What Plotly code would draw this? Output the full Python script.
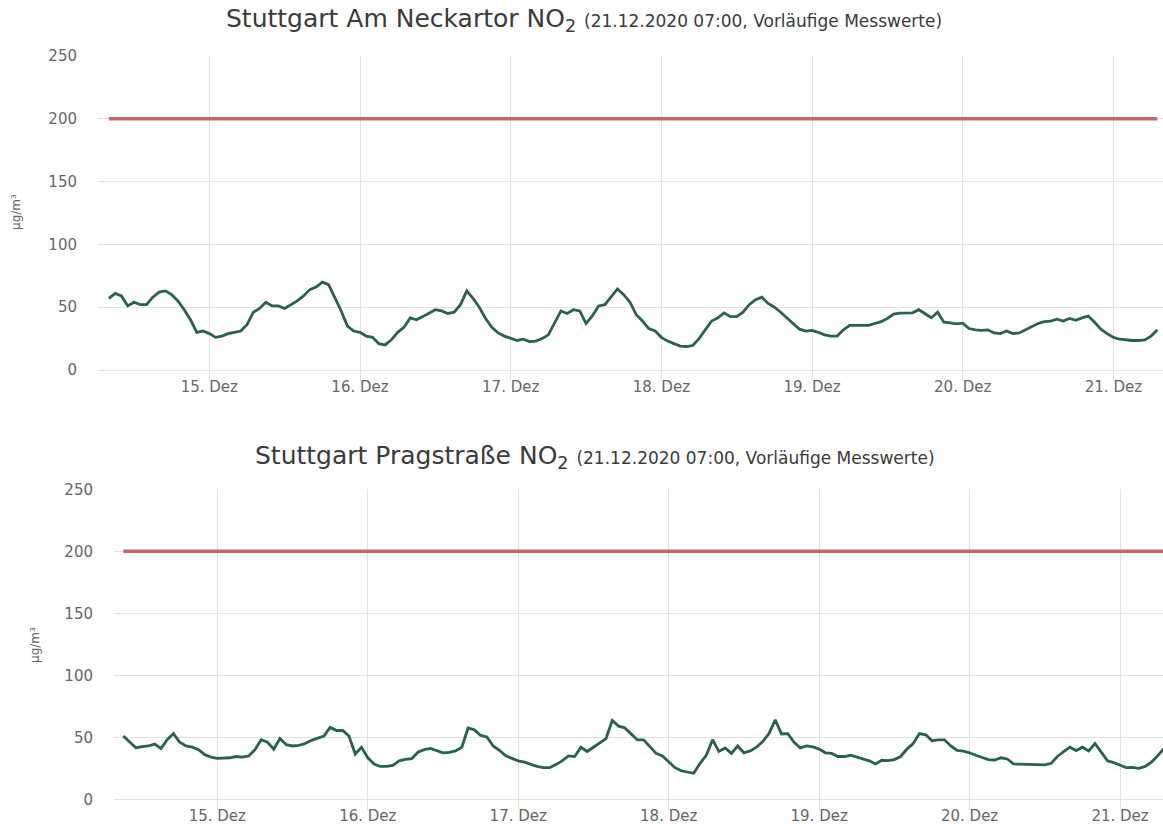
import pandas as pd
import plotly.graph_objects as go

# ---- data (hourly NO2, µg/m³) ----
neckartor_start = "2020-12-14 08:00"
neckartor = [
    57, 61, 59, 51, 54, 52, 52, 58, 62, 63, 60, 55, 48, 40, 30, 31,
    29, 26, 27, 29, 30, 31, 36, 46, 49, 54, 51, 51, 49, 52, 55, 59, 64, 66, 70, 68, 58, 47, 35, 31,
    30, 27, 26, 21, 20, 24, 30, 34, 41.5, 40, 42.5, 45.5, 48, 47, 45, 46, 52, 63, 57, 50, 41, 34, 29.5, 27,
    25, 23.5, 24.5, 22.7, 23, 25, 28, 38, 47, 45, 48, 47, 37, 43, 51, 52, 58, 64.5, 60, 54, 44, 39, 33, 31,
    26, 23, 21, 19, 18.7, 19.5, 25, 32, 39, 41.5, 45.5, 42.5, 42.5, 46, 52, 56, 58, 53, 50, 46, 41.5, 37, 32.5, 31,
    31.5, 30, 28, 27, 27, 32, 35.5, 35.5, 35.5, 35.5, 37, 38.5, 41, 44.5, 45.3, 45.3, 45.5, 48, 44.8, 41.6, 46, 38, 37.6, 36.8,
    37.3, 33, 32, 31.5, 32, 29.5, 29, 31, 29, 29.5, 32, 34.5, 37, 38.5, 39, 40.5, 39, 41, 39.5, 41.5, 43, 38, 32.5, 29,
    26, 24.5, 23.8, 23.5, 23.5, 24, 27, 32,
]

prag_start = "2020-12-14 09:00"
prag = [
    51, 46, 41.5, 42.5, 43, 44.5, 41, 48, 53, 46, 43, 42, 40, 36, 34,
    33, 33, 33.5, 34.5, 34, 35, 40, 48, 46, 40.5, 49, 44, 43, 43.5, 45, 47.5, 49.5, 51, 58, 55.5, 55.5, 51, 36.5, 42,
    33.5, 28.5, 26.5, 26.5, 27.3, 31, 32.2, 32.7, 38, 40, 41, 39.5, 37.5, 37.8, 39, 42, 57.5, 56, 51.5, 50.3, 43, 39.5, 35, 33,
    31, 30, 28, 26.5, 25.5, 25.5, 28, 31, 35, 34.5, 42, 38.6, 42, 45.5, 49, 63.5, 59, 57.6, 53, 48, 48, 42.5, 37, 35,
    30, 25.5, 23, 22, 21, 29, 35.5, 48, 38.6, 41.4, 37, 43, 37.5, 39, 42, 46.5, 53, 64, 52.7, 53, 46, 41.5, 43, 42.3,
    40.5, 37.5, 37, 34.5, 34.5, 35.5, 34, 33, 31, 28.5, 31.5, 31.2, 32, 34.5, 40.5, 45, 53, 52, 47.3, 48, 48, 43, 39.5, 38.8,
    37.5, 35.5, 33.5, 32, 31.7, 33.5, 32.5, 28.5, 28.3, 28, 27.7, 27.7, 27.7, 29, 34.5, 38.5, 42, 39.3, 42, 39, 45, 38, 31, 29.6,
    27.8, 25.5, 25.8, 25, 26.5, 30, 35, 41,
]

limit_value = 200
tick_days = ["2020-12-15", "2020-12-16", "2020-12-17", "2020-12-18",
             "2020-12-19", "2020-12-20", "2020-12-21"]
tick_labels = ["15. Dez", "16. Dez", "17. Dez", "18. Dez",
               "19. Dez", "20. Dez", "21. Dez"]
y_ticks = [0, 50, 100, 150, 200, 250]

titles = ["Stuttgart Am Neckartor NO<sub>2</sub>", "Stuttgart Pragstraße NO<sub>2</sub>"]
subtitle = "(21.12.2020 07:00, Vorläufige Messwerte)"
unit = "µg/m³"

t_neck = pd.date_range(neckartor_start, periods=len(neckartor), freq="h")
t_prag = pd.date_range(prag_start, periods=len(prag), freq="h")

W, H = 1163, 824
GREEN = "#2c5f4c"
RED = "#c46868"
GRID = "#e3e3e3"
FONT = "DejaVu Sans"

fig = go.Figure()
fig.add_trace(go.Scatter(x=[t_neck[0], t_neck[-1]], y=[limit_value, limit_value],
                         mode="lines", line=dict(color=RED, width=3.5),
                         xaxis="x", yaxis="y", hoverinfo="skip"))
fig.add_trace(go.Scatter(x=t_neck, y=neckartor, mode="lines",
                         line=dict(color=GREEN, width=2.8),
                         xaxis="x", yaxis="y"))
fig.add_trace(go.Scatter(x=[t_prag[0], t_prag[-1]], y=[limit_value, limit_value],
                         mode="lines", line=dict(color=RED, width=3.5),
                         xaxis="x2", yaxis="y2", hoverinfo="skip"))
fig.add_trace(go.Scatter(x=t_prag, y=prag, mode="lines",
                         line=dict(color=GREEN, width=2.8),
                         xaxis="x2", yaxis="y2"))


def px_x(p):
    return p / W


def px_y(p):
    return 1 - p / H


xcommon = dict(type="date", tickmode="array", tickvals=tick_days, ticktext=tick_labels,
               showgrid=True, gridcolor=GRID, gridwidth=1, ticks="outside", ticklen=10,
               tickcolor=GRID, showline=True, linecolor=GRID, linewidth=1,
               zeroline=False, automargin=False, ticklabelstandoff=-7,
               tickfont=dict(family=FONT, size=15, color="#666666"))
ycommon = dict(range=[0, 250], tickmode="array", tickvals=y_ticks, showgrid=True,
               gridcolor=GRID, gridwidth=1, zeroline=False, ticks="", automargin=False,
               ticklabelstandoff=20, tickfont=dict(family=FONT, size=15, color="#666666"))

fig.update_layout(
    width=W, height=H, margin=dict(l=0, r=0, t=0, b=0, pad=0, autoexpand=False),
    paper_bgcolor="white", plot_bgcolor="white", showlegend=False,
    xaxis=dict(domain=[px_x(98), 1.0], anchor="y",
               range=["2020-12-14 06:16", "2020-12-21 07:54"], **xcommon),
    yaxis=dict(domain=[px_y(370), px_y(56)], anchor="x", **ycommon),
    xaxis2=dict(domain=[px_x(114), 1.0], anchor="y2",
                range=["2020-12-14 07:31", "2020-12-21 06:51"], **xcommon),
    yaxis2=dict(domain=[px_y(799.3), px_y(489.3)], anchor="x2", **ycommon),
)

title_pos = [(584, 20), (595, 457)]
for (tx, ty), ttl in zip(title_pos, titles):
    fig.add_annotation(
        x=px_x(tx), y=px_y(ty), xref="paper", yref="paper", showarrow=False,
        xanchor="center", yanchor="middle",
        text=f"{ttl} <span style='font-size:17px'>{subtitle}</span>",
        font=dict(family=FONT, size=25, color="#3a3a3a"))

for ux, uy in [(16, 212), (35, 645)]:
    fig.add_annotation(
        x=px_x(ux), y=px_y(uy), xref="paper", yref="paper", showarrow=False,
        xanchor="center", yanchor="middle", textangle=-90, text=unit,
        font=dict(family=FONT, size=12, color="#666666"))

fig.write_html(
    "out.html",
    config={"displayModeBar": False},
    post_script="document.body.style.margin='0';document.body.style.padding='0';"
                "document.documentElement.style.overflow='hidden';",
)
